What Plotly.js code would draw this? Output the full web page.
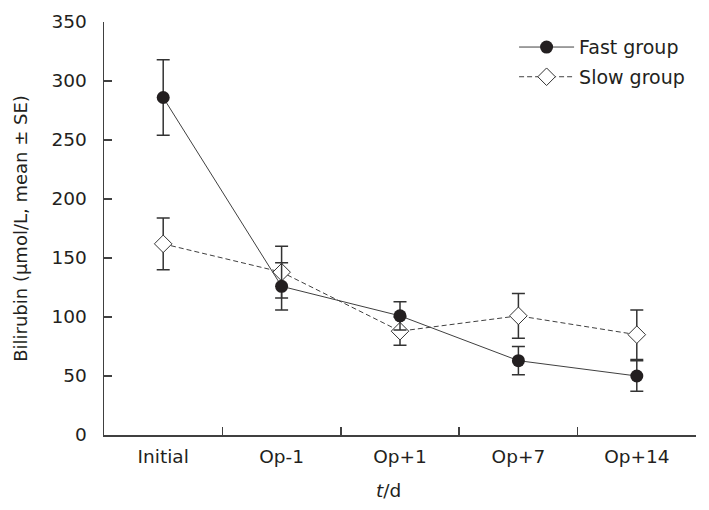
<!DOCTYPE html>
<html>
<head>
<meta charset="utf-8">
<script src="https://cdn.plot.ly/plotly-3.0.1.min.js"></script>
<style>html,body{margin:0;padding:0;background:#fff}#chart{width:709px;height:510px}</style>
</head>
<body>
<div id="chart"></div>
<script>
const categories = ["Initial", "Op-1", "Op+1", "Op+7", "Op+14"];
const fastMean = [286, 126, 101, 63, 50];
const fastSE   = [32, 20, 12, 12, 13];
const slowMean = [162, 138, 88, 101, 85];
const slowSE   = [22, 22, 12, 19, 21];
const seriesNames = ["Fast group", "Slow group"];
const yTicks = [0, 50, 100, 150, 200, 250, 300, 350];
const xTitle = "<i>t</i>/d";
const yTitle = "Bilirubin (μmol/L, mean ± SE)";

const ink = "#231f20";
const lineCol = "#404040";

const slow = {
  x: categories, y: slowMean, name: seriesNames[1], type: "scatter", mode: "lines+markers",
  legendrank: 2, legendgroup: "b",
  line: {color: lineCol, width: 1, dash: "5px,3px"},
  marker: {symbol: "diamond", size: 13.5, color: "#ffffff", line: {color: "#333333", width: 1}},
  error_y: {type: "data", array: slowSE, visible: true, color: "#333333", thickness: 1.5, width: 6.5}
};
const fast = {
  x: categories, y: fastMean, name: seriesNames[0], type: "scatter", mode: "lines+markers",
  legendrank: 1, legendgroup: "a",
  line: {color: lineCol, width: 1},
  marker: {symbol: "circle", size: 13, color: "#231f20"},
  error_y: {type: "data", array: fastSE, visible: true, color: "#333333", thickness: 1.5, width: 6.5}
};

const layout = {
  width: 709, height: 510,
  margin: {l: 104, r: 13, t: 22, b: 75},
  paper_bgcolor: "#ffffff", plot_bgcolor: "#ffffff",
  font: {family: "DejaVu Sans, Verdana, sans-serif", size: 18, color: ink},
  showlegend: true,
  legend: {x: 0.99, xanchor: "right", y: 0.985, yanchor: "top", bgcolor: "rgba(0,0,0,0)",
           font: {size: 19, color: ink}, traceorder: "grouped", tracegroupgap: 2, itemwidth: 55},
  xaxis: {
    type: "category", categoryorder: "array", categoryarray: categories,
    range: [-0.5, 4.5],
    showline: true, linecolor: "#404040", linewidth: 1.5,
    ticks: "inside", tickson: "boundaries", ticklen: 8, tickcolor: "#404040", tickwidth: 1.5,
    showgrid: false, zeroline: false,
    tickfont: {size: 18.5, color: ink},
    ticklabelstandoff: 4
  },
  yaxis: {
    range: [0, 350], tickvals: yTicks,
    showline: true, linecolor: "#404040", linewidth: 1.5,
    ticks: "inside", ticklen: 8, tickcolor: "#404040", tickwidth: 1.5,
    showgrid: false, zeroline: false,
    tickfont: {size: 18.5, color: ink},
    ticklabelstandoff: 12,
    title: {text: yTitle, font: {size: 18, color: ink}, standoff: 19}
  },
  annotations: [{
    text: xTitle, xref: "paper", yref: "paper", x: 0.48, y: 0,
    xanchor: "center", yanchor: "top", yshift: -43, showarrow: false,
    font: {size: 18.5, color: ink}
  }]
};

Plotly.newPlot("chart", [slow, fast], layout, {displayModeBar: false, staticPlot: true});
</script>
</body>
</html>
